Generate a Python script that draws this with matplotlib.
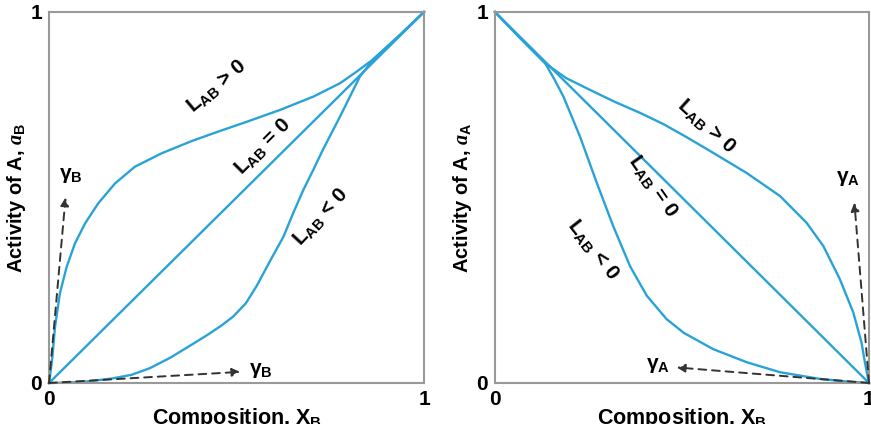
import matplotlib.pyplot as plt

plt.rcParams['font.family'] = 'Liberation Sans'
plt.rcParams['font.weight'] = 'bold'
plt.rcParams['mathtext.fontset'] = 'custom'
plt.rcParams['mathtext.rm'] = 'Liberation Sans:bold'
plt.rcParams['mathtext.bf'] = 'Liberation Sans:bold'
plt.rcParams['mathtext.it'] = 'Liberation Serif:italic'

# --- dati: pannello sinistro (a_B) ---
xb_ideal = [0, 1]
ab_ideal = [0, 1]
xb_pos = [0, 0.004, 0.009, 0.016, 0.029, 0.047, 0.069, 0.096, 0.131, 0.176, 0.229,
          0.3, 0.38, 0.438, 0.527, 0.616, 0.705, 0.776, 0.82, 0.86, 0.93, 1]
ab_pos = [0, 0.03, 0.071, 0.152, 0.242, 0.313, 0.376, 0.43, 0.484, 0.538, 0.583,
          0.619, 0.652, 0.673, 0.704, 0.736, 0.772, 0.808, 0.839, 0.869, 0.933, 1]
xb_neg = [0, 0.05, 0.1, 0.167, 0.22, 0.269, 0.323, 0.375, 0.42, 0.46, 0.491, 0.525,
          0.554, 0.59, 0.625, 0.652, 0.678, 0.705, 0.73, 0.776, 0.829, 0.86, 0.93, 1]
ab_neg = [0, 0.001, 0.004, 0.012, 0.022, 0.04, 0.068, 0.1, 0.128, 0.155, 0.179, 0.215,
          0.262, 0.33, 0.394, 0.46, 0.52, 0.575, 0.628, 0.718, 0.826, 0.866, 0.932, 1]

# --- pannello destro (a_A) ---
xa_ideal = [0, 1]
aa_ideal = [1, 0]
xa_pos = [0, 0.067, 0.134, 0.19, 0.254, 0.32, 0.388, 0.45, 0.51, 0.584, 0.673, 0.762,
          0.833, 0.878, 0.922, 0.958, 0.98, 0.989, 0.996, 1]
aa_pos = [1, 0.93, 0.862, 0.822, 0.79, 0.758, 0.728, 0.698, 0.664, 0.62, 0.566, 0.504,
          0.432, 0.369, 0.28, 0.19, 0.109, 0.056, 0.02, 0]
xa_neg = [0, 0.067, 0.134, 0.158, 0.183, 0.227, 0.272, 0.316, 0.361, 0.406, 0.459,
          0.505, 0.584, 0.673, 0.762, 0.869, 0.94, 1]
aa_neg = [1, 0.93, 0.862, 0.82, 0.772, 0.665, 0.54, 0.423, 0.315, 0.235, 0.172,
          0.135, 0.091, 0.056, 0.029, 0.011, 0.004, 0]

blu = '#29a3d6'
grigio = '#333333'

fig = plt.figure(figsize=(8.71, 4.24), dpi=100)
ax1 = fig.add_axes([0.0563, 0.0967, 0.4305, 0.875])
ax2 = fig.add_axes([0.5683, 0.0967, 0.4294, 0.875])

for ax in (ax1, ax2):
    ax.set_xlim(0, 1)
    ax.set_ylim(0, 1)
    ax.set_xticks([0, 1])
    ax.set_yticks([0, 1])
    ax.set_xticklabels(['0', '1'], fontsize=15, fontweight='bold')
    ax.set_yticklabels(['0', '1'], fontsize=15, fontweight='bold')
    ax.tick_params(length=0, pad=5)
    for s in ax.spines.values():
        s.set_color('#999999')
        s.set_linewidth(1.5)
    ax.set_xlabel('Composition, X$_\\mathrm{B}$', fontsize=15.5, fontweight='bold', labelpad=-2)

def freccia(ax, x0, y0, x1, y1):
    ax.annotate('', xy=(x1, y1), xytext=(x0, y0),
                arrowprops=dict(arrowstyle='-|>', color=grigio, lw=1.4, ls=(0, (4, 3)),
                                mutation_scale=12, shrinkA=0, shrinkB=0))

# sinistra
for xs, ys in ((xb_ideal, ab_ideal), (xb_pos, ab_pos), (xb_neg, ab_neg)):
    ax1.plot(xs, ys, color=blu, lw=1.7, clip_on=False, solid_joinstyle='round')
freccia(ax1, 0, 0, 0.044, 0.5)
freccia(ax1, 0, 0, 0.51, 0.03)
ax1.text(0.058, 0.56, '\u03b3$_\\mathrm{B}$', fontsize=15, ha='center', va='center')
ax1.text(0.565, 0.035, '\u03b3$_\\mathrm{B}$', fontsize=15, ha='center', va='center')
ax1.text(0.447, 0.8, 'L$_\\mathrm{AB}$ > 0', fontsize=15, rotation=40, ha='center', va='center')
ax1.text(0.571, 0.637, 'L$_\\mathrm{AB}$ = 0', fontsize=15, rotation=45, ha='center', va='center')
ax1.text(0.723, 0.448, 'L$_\\mathrm{AB}$ < 0', fontsize=15, rotation=47, ha='center', va='center')
ax1.set_ylabel('Activity of A, $\\mathit{a}_\\mathrm{B}$', fontsize=14.5, fontweight='bold', labelpad=2)

# destra
for xs, ys in ((xa_ideal, aa_ideal), (xa_pos, aa_pos), (xa_neg, aa_neg)):
    ax2.plot(xs, ys, color=blu, lw=1.7, clip_on=False, solid_joinstyle='round')
freccia(ax2, 1, 0, 0.961, 0.486)
freccia(ax2, 1, 0, 0.486, 0.042)
ax2.text(0.945, 0.55, '\u03b3$_\\mathrm{A}$', fontsize=15, ha='center', va='center')
ax2.text(0.437, 0.047, '\u03b3$_\\mathrm{A}$', fontsize=15, ha='center', va='center')
ax2.text(0.566, 0.692, 'L$_\\mathrm{AB}$ > 0', fontsize=15, rotation=-42, ha='center', va='center')
ax2.text(0.423, 0.53, 'L$_\\mathrm{AB}$ = 0', fontsize=15, rotation=-55, ha='center', va='center')
ax2.text(0.263, 0.36, 'L$_\\mathrm{AB}$ < 0', fontsize=15, rotation=-52, ha='center', va='center')
ax2.set_ylabel('Activity of A, $\\mathit{a}_\\mathrm{A}$', fontsize=14.5, fontweight='bold', labelpad=2)

fig.savefig('out.png', dpi=100)
